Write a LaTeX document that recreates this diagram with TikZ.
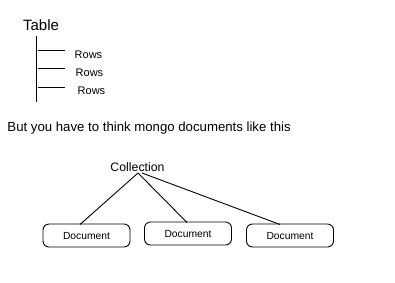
\documentclass[tikz,border=0pt]{standalone}
\usepackage{fontspec}
\setmainfont{Liberation Sans}
\begin{document}
\begin{tikzpicture}[x=1pt,y=-1pt,line width=0.9pt,
  lbl/.style={inner sep=0pt,anchor=center},
  doc/.style={draw,rounded corners=6pt,minimum width=87pt,minimum height=23pt,inner sep=0pt,font=\fontsize{10.3}{12}\selectfont},
  rowlbl/.style={lbl,font=\fontsize{11}{13}\selectfont}]
\useasboundingbox (0,0) rectangle (395,282);
\node[lbl,font=\fontsize{15}{17}\selectfont] (table) at (41,25) {Table};
\coordinate (vtop) at (36,36);
\coordinate (vbot) at (36,102);
\draw (vtop) -- (vbot);
\coordinate (h1a) at (38,50); \coordinate (h1b) at (65,50);
\coordinate (h2a) at (38,68); \coordinate (h2b) at (65,68);
\coordinate (h3a) at (38,87); \coordinate (h3b) at (65,87);
\draw (h1a) -- (h1b);
\draw (h2a) -- (h2b);
\draw (h3a) -- (h3b);
\node[rowlbl] (r1) at (88.5,55) {Rows};
\node[rowlbl] (r2) at (89.5,73) {Rows};
\node[rowlbl] (r3) at (91.5,91) {Rows};
\node[lbl,anchor=west,font=\fontsize{13.2}{15}\selectfont] (but) at (7,128) {But you have to think mongo documents like this};
\node[lbl,font=\fontsize{12.3}{14}\selectfont] (coll) at (137.5,167) {Collection};
\node[doc] (d1) at (86.5,235.5) {Document};
\node[doc] (d2) at (188,233.5) {Document};
\node[doc] (d3) at (290,235.5) {Document};
\coordinate (c1) at (138,173);
\coordinate (c3) at (142,173);
\coordinate (e1) at (80,224.5);
\coordinate (e2) at (187,222.5);
\coordinate (e3) at (280,224.5);
\draw (c1) -- (e1);
\draw (c1) -- (e2);
\draw (c3) -- (e3);
\end{tikzpicture}
\end{document}
